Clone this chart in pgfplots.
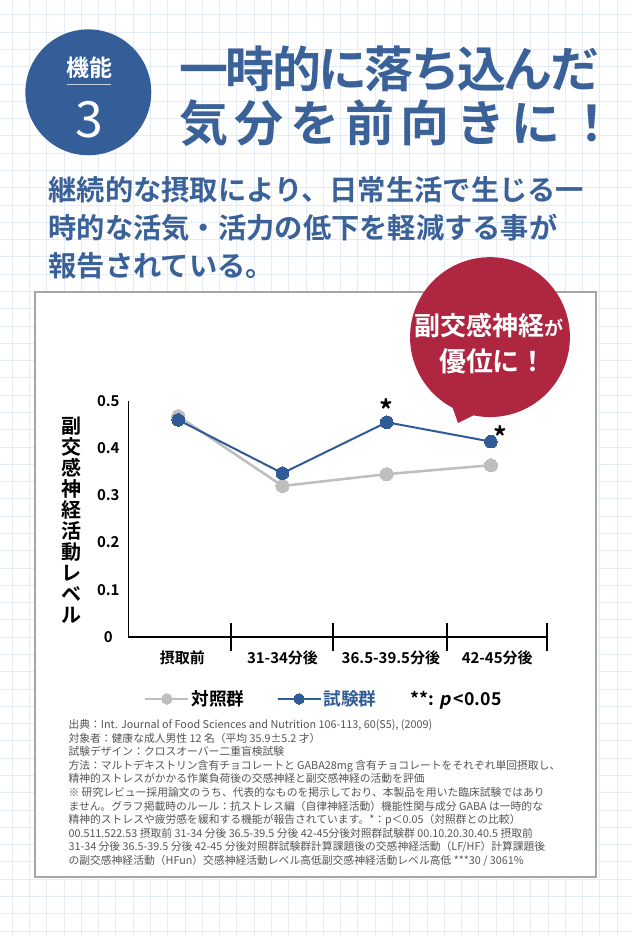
\documentclass[border=0pt]{standalone}
\usepackage{fontspec}
\setmainfont{Noto Sans CJK JP}[BoldFont={Noto Sans CJK JP Bold},ItalicFont={Noto Sans CJK JP},ItalicFeatures={FakeSlant=0.2},BoldItalicFont={Noto Sans CJK JP Bold},BoldItalicFeatures={FakeSlant=0.2}]
\usepackage{pgfplots}
\pgfplotsset{compat=1.18}
\pgfdeclarelayer{background}
\pgfsetlayers{background,main}
\definecolor{tblue}{HTML}{3A6299}
\definecolor{cblue}{HTML}{335E97}
\definecolor{dblue}{HTML}{2F5B96}
\definecolor{cred}{HTML}{AF2640}
\definecolor{cgrey}{HTML}{BEBEBE}
\definecolor{gridc}{HTML}{E3EBF6}
\definecolor{ftext}{HTML}{555555}
\begin{document}
\begin{tikzpicture}[x=1pt,y=1pt]
% chart
\begin{axis}[
  name=ax, anchor=south west, scale only axis,
  width=419pt, height=236pt,
  xmin=-0.479, xmax=3.537, ymin=0, ymax=0.5,
  clip=false,
  axis x line=bottom, axis y line=left,
  x axis line style={-, line width=2pt},
  y axis line style={-, line width=1.4pt},
  /pgf/number format/assume math mode=true,
  xtick={0.04,1,2.04,3.06},
  xticklabels={摂取前,31-34分後,36.5-39.5分後,42-45分後},
  major tick length=0pt,
  xticklabel style={anchor=center, yshift=-21pt, font=\fontsize{15}{15}\bfseries\selectfont},
  extra x ticks={0.508,1.486,2.578,3.537},
  extra x tick labels={},
  extra x tick style={major tick length=28pt, tick align=center, tick style={black, line width=1.4pt}},
  ytick={0,0.1,0.2,0.3,0.4,0.5},
  yticklabels={0,0.1,0.2,0.3,0.4,0.5},
  yticklabel style={anchor=center, xshift=-20pt, font=\fontsize{15}{15}\bfseries\selectfont},
  ylabel={副\\交\\感\\神\\経\\活\\動\\レ\\ベ\\ル},
  every axis y label/.style={at={(axis description cs:-0.136,0.496)}, anchor=center, align=center, font=\fontsize{20}{21}\bfseries\selectfont},
  legend columns=3,
  legend style={at={(axis description cs:0.467,-0.263)}, anchor=center, draw=none, fill=none,
    font=\fontsize{17.7}{18}\bfseries\selectfont,
    /tikz/every even column/.append style={column sep=30pt}},
  legend image code/.code={\draw[mark repeat=2,mark phase=2,#1,mark size=5.3pt] plot coordinates {(0pt,0pt) (21.5pt,0pt) (43pt,0pt)};},
]
\addplot[cgrey, line width=2.5pt, mark=*, mark size=6.5pt, mark options={fill=cgrey, draw=cgrey, line width=0pt}]
  coordinates {(0,0.468) (1,0.320) (2,0.345) (3,0.364)};
\addlegendentry{対照群}
\addplot[dblue, line width=2pt, mark=*, mark size=6.3pt, mark options={fill=dblue, draw=dblue, line width=0pt}]
  coordinates {(0,0.460) (1,0.347) (2,0.455) (3,0.414)};
\addlegendentry{\textcolor{dblue}{試験群}}
\addlegendimage{empty legend}
\addlegendentry{**: \textit{p}\,<0.05}
\node[font=\fontsize{27}{27}\bfseries\selectfont] at (axis cs:2,0.455) [yshift=13pt] {*};
\node[font=\fontsize{27}{27}\bfseries\selectfont] at (axis cs:3,0.414) [xshift=9pt, yshift=5pt] {*};
\end{axis}
\begin{scope}[shift={(ax.south west)}]
\begin{scope}[shift={(-128,-299)}]
\begin{pgfonlayer}{background}
\fill[white] (0,0) rectangle (631,936);
\foreach \i in {0,...,35} { \draw[gridc,line width=0.8pt] ({11.7+17.3*\i},0) -- ({11.7+17.3*\i},936); }
\foreach \j in {0,...,53} { \draw[gridc,line width=0.8pt] (0,{936-14.4-17.3*\j}) -- (631,{936-14.4-17.3*\j}); }
% blue badge
\fill[cblue] (88,{936-92}) circle (63);
\node[text=white, font=\fontsize{23}{23}\bfseries\selectfont] at (89,{936-67}) {機能};
\draw[white!70!cblue, line width=1.5pt] (67,{936-84}) -- (111,{936-84});
\node[text=white, font=\fontsize{50}{50}\selectfont] at (89,{936-119}) {3};
% title
\node[anchor=west, inner sep=0, text=tblue, font=\fontsize{49}{49}\bfseries\selectfont] at (179,{936-69}) {\hbox to 420pt{一\hss 時\hss 的\hss に\hss 落\hss ち\hss 込\hss ん\hss だ}};
\node[anchor=west, inner sep=0, text=tblue, font=\fontsize{49}{49}\bfseries\selectfont] at (179,{936-123}) {\hbox to 437pt{気\hss 分\hss を\hss 前\hss 向\hss き\hss に\hss ！}};
% subtitle
\node[anchor=west, inner sep=0, text=tblue, font=\fontsize{28.3}{38}\bfseries\selectfont] at (48,{936-190}) {継続的な摂取により、日常生活で生じる一};
\node[anchor=west, inner sep=0, text=tblue, font=\fontsize{28.3}{38}\bfseries\selectfont] at (48,{936-228}) {時的な活気・活力の低下を軽減する事が};
\node[anchor=west, inner sep=0, text=tblue, font=\fontsize{28.3}{38}\bfseries\selectfont] at (48,{936-266}) {報告されている。};
% white box
\draw[fill=white, draw=black!35, line width=2pt] (35,{936-292}) rectangle (596,{936-877});
% red bubble
\fill[cred] (490,{936-337}) circle (80);
\fill[cred] (450,{936-400}) -- (480,{936-412}) -- (458,{936-423}) -- cycle;
\node[text=white, font=\fontsize{26}{26}\bfseries\selectfont] at (489,{936-325}) {副交感神経{\fontsize{19}{19}\selectfont が}};
\node[text=white, font=\fontsize{27}{27}\bfseries\selectfont] at (493,{936-361}) {優位に！};
\end{pgfonlayer}
% footnote
\node[anchor=north west, inner sep=0, align=left, text=ftext, font=\fontsize{10.8}{13.6}\selectfont] at (68,{936-719.5}) {%
出典：Int. Journal of Food Sciences and Nutrition 106-113, 60(S5), (2009)\\
対象者：健康な成人男性 12 名（平均 35.9±5.2 才）\\
試験デザイン：クロスオーバー二重盲検試験\\
方法：マルトデキストリン含有チョコレートと GABA28mg 含有チョコレートをそれぞれ単回摂取し、\\
精神的ストレスがかかる作業負荷後の交感神経と副交感神経の活動を評価\\
※ 研究レビュー採用論文のうち、代表的なものを掲示しており、本製品を用いた臨床試験ではあり\\
ません。グラフ掲載時のルール：抗ストレス編（自律神経活動）機能性関与成分 GABA は一時的な\\
精神的ストレスや疲労感を緩和する機能が報告されています。*：p＜0.05（対照群との比較）\\
00.511.522.53 摂取前 31-34 分後 36.5-39.5 分後 42-45分後対照群試験群 00.10.20.30.40.5 摂取前\\
31-34 分後 36.5-39.5 分後 42-45 分後対照群試験群計算課題後の交感神経活動（LF/HF）計算課題後\\
の副交感神経活動（HFun）交感神経活動レベル高低副交感神経活動レベル高低 ***30 / 3061\%};
\useasboundingbox (0,0) rectangle (631,936);
\end{scope}
\end{scope}
\end{tikzpicture}
\end{document}
